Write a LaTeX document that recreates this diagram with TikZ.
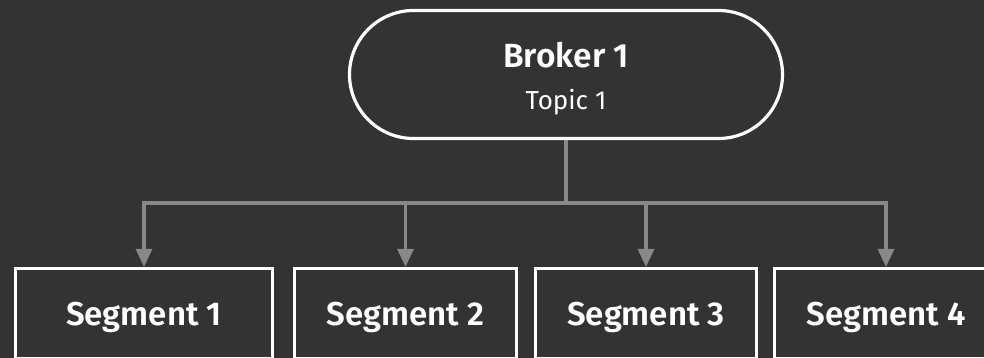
\documentclass[tikz,border=0pt]{standalone}
\usepackage{fontspec}
\setmainfont{Fira Sans}[BoldFont={Fira Sans SemiBold}]
\usetikzlibrary{arrows.meta}
\definecolor{bgc}{HTML}{333333}
\definecolor{linec}{HTML}{888888}
\tikzset{
  segbox/.style={draw=white, line width=3.2pt, minimum width=#1, minimum height=90.5pt,
     inner sep=0pt, text=white, font=\bfseries\fontsize{33}{36}\selectfont, text height=22.5pt, text depth=0pt},
  conn/.style={draw=linec, line width=3.4pt},
  arr/.style={conn, -{Triangle[width=16pt,length=18pt]}}
}
\begin{document}
\begin{tikzpicture}[x=1pt,y=-1pt]
\fill[bgc] (0,0) rectangle (984,358);
\useasboundingbox (0,0) rectangle (984,358);
\clip (0,0) rectangle (984,358);
\node[draw=white, line width=3.2pt, rounded corners=64pt, minimum width=433pt, minimum height=128pt, inner sep=0pt] (broker) at (566,74.5) {};
\node[text=white, font=\bfseries\fontsize{33.5}{36}\selectfont, anchor=base] (btitle) at (566,68) {Broker 1};
\node[text=white, font=\fontsize{26}{30}\selectfont, anchor=base] (btopic) at (566,110) {Topic 1};
\node[segbox=257pt] (s1) at (144,313.75) {Segment 1};
\node[segbox=222pt] (s2) at (405.5,313.75) {Segment 2};
\node[segbox=221pt] (s3) at (646,313.75) {Segment 3};
\node[segbox=223pt] (s4) at (886,313.75) {Segment 4};
\coordinate (j) at (566,203);
\draw[conn] (broker.south) -- (j);
\draw[arr] (j) -| (s1.north);
\draw[arr] (j) -| (s2.north);
\draw[arr] (j) -| (s3.north);
\draw[arr] (j) -| (s4.north);
\end{tikzpicture}
\end{document}
